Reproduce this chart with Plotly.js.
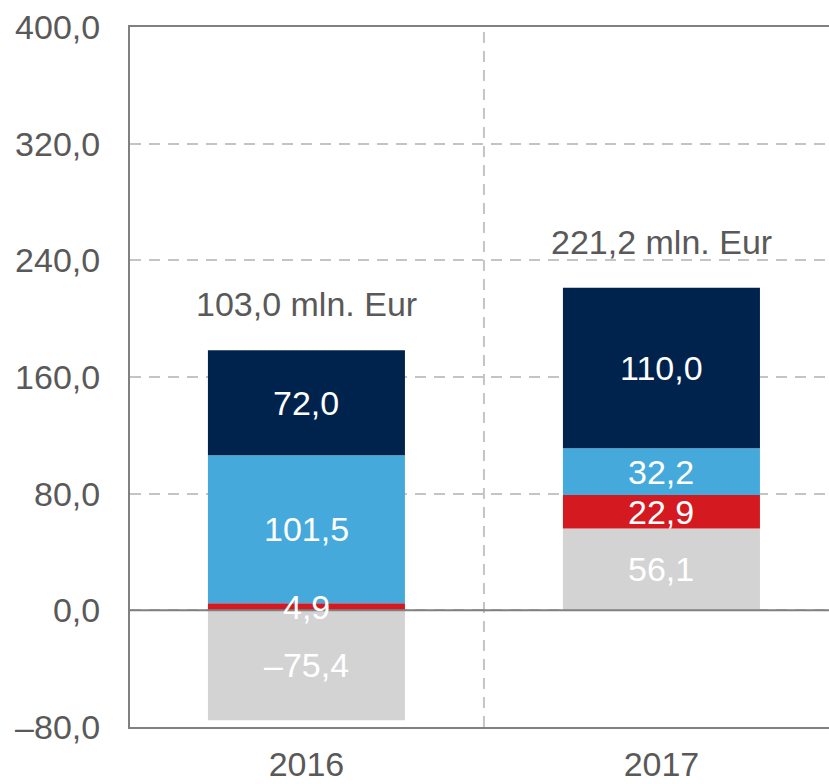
<!DOCTYPE html>
<html>
<head>
<meta charset="utf-8">
<script src="https://cdn.plot.ly/plotly-3.0.1.min.js"></script>
<style>html,body{margin:0;padding:0;background:#fff;}#chart{width:829px;height:784px;}</style>
</head>
<body>
<div id="chart"></div>
<script>
const categories = ['2016', '2017'];
const seriesGrey = [-75.4, 56.1];
const seriesRed = [4.9, 22.9];
const seriesLightBlue = [101.5, 32.2];
const seriesNavy = [72.0, 110.0];
const totals = [103.0, 221.2];
const totalSuffix = ' mln. Eur';
const yTickVals = [-80, 0, 80, 160, 240, 320, 400];

const colors = ['#D3D3D3', '#D51920', '#45AADB', '#00234D'];
const series = [seriesGrey, seriesRed, seriesLightBlue, seriesNavy];
const FONT = '"Liberation Sans", Arial, sans-serif';
const TXT = '#595959';
const FS = 34;

function fmt(v) {
  const s = Math.abs(v).toFixed(1).replace('.', ',');
  return (v < 0 ? '\u2013' : '') + s;
}

const traces = series.map((vals, i) => ({
  type: 'bar',
  x: categories,
  y: vals,
  width: 0.555,
  marker: { color: colors[i], line: { width: 0 } },
  hoverinfo: 'skip',
  showlegend: false
}));

const annotations = [];
categories.forEach((c, ci) => {
  let pos = 0, neg = 0;
  series.forEach((vals) => {
    const v = vals[ci];
    let mid;
    if (v >= 0) { mid = pos + v / 2; pos += v; }
    else { mid = neg + v / 2; neg += v; }
    annotations.push({
      x: ci, y: mid, xref: 'x', yref: 'y', text: fmt(v), showarrow: false,
      font: { family: FONT, size: FS, color: '#FFFFFF' }, yanchor: 'middle', xanchor: 'center'
    });
  });
  annotations.push({
    x: ci, y: pos, xref: 'x', yref: 'y', text: fmt(totals[ci]) + totalSuffix, showarrow: false,
    font: { family: FONT, size: FS, color: TXT }, yanchor: 'middle', xanchor: 'center', yshift: 46
  });
});

const layout = {
  width: 829, height: 784,
  margin: { l: 130, r: 0, t: 27, b: 57 },
  paper_bgcolor: '#fff', plot_bgcolor: '#fff',
  barmode: 'relative',
  separators: ',.',
  font: { family: FONT, color: TXT, size: FS },
  xaxis: {
    type: 'category',
    range: [-0.497, 1.472],
    showgrid: false,
    showline: true, linecolor: '#808080', linewidth: 2, mirror: true,
    ticks: 'outside', ticklen: 6, tickcolor: 'rgba(0,0,0,0)',
    tickfont: { family: FONT, size: FS, color: TXT },
    fixedrange: true
  },
  yaxis: {
    range: [-80, 400],
    tickvals: yTickVals,
    ticktext: yTickVals.map(fmt),
    showgrid: true, gridcolor: '#C4C4C4', gridwidth: 2, griddash: '11px,8px',
    zeroline: false,
    showline: true, linecolor: '#808080', linewidth: 2,
    ticks: 'outside', ticklen: 21, tickcolor: 'rgba(0,0,0,0)',
    tickfont: { family: FONT, size: FS, color: TXT },
    fixedrange: true
  },
  shapes: [
    { type: 'line', xref: 'x', yref: 'paper', x0: 0.5, x1: 0.5, y0: 0, y1: 1,
      line: { color: '#C4C4C4', width: 2, dash: '11px,8px' }, layer: 'below' },
    { type: 'line', xref: 'paper', yref: 'y', x0: 0, x1: 1, y0: 0, y1: 0,
      line: { color: '#808080', width: 2 }, layer: 'above' }
  ],
  annotations: annotations
};

Plotly.newPlot('chart', traces, layout, { displayModeBar: false, staticPlot: true });
</script>
</body>
</html>
